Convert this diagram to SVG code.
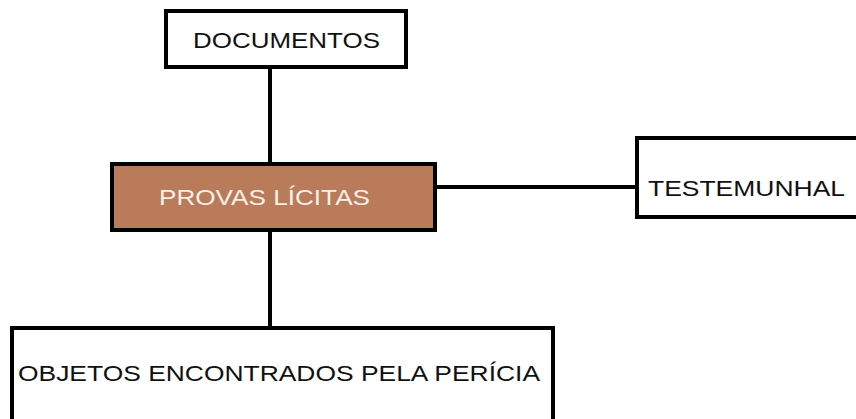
<svg xmlns="http://www.w3.org/2000/svg" width="856" height="419" viewBox="0 0 856 419">
<style>
.box{fill:#fff;stroke:#000;stroke-width:4}
.main{fill:#b97b5a;stroke:#000;stroke-width:4}
.t{font-family:"Liberation Sans",Arial,sans-serif;font-size:22px;fill:#111}
.tl{font-family:"Liberation Sans",Arial,sans-serif;font-size:22px;fill:#f6f0e8}
.c{stroke:#000;stroke-width:4;fill:none}
</style>
<rect width="856" height="419" fill="#fff"/>
<g id="connectors">
<line class="c" x1="270" y1="67" x2="270" y2="164"/>
<line class="c" x1="270" y1="230" x2="270" y2="328"/>
<line class="c" x1="435" y1="187" x2="637" y2="187"/>
</g>
<g id="documentos">
<rect class="box" x="166" y="11" width="240" height="56"/>
<text class="t" x="193" y="48" textLength="187" lengthAdjust="spacingAndGlyphs">DOCUMENTOS</text>
</g>
<g id="provas">
<rect class="main" x="112" y="164" width="323" height="66"/>
<text class="tl" x="159" y="205" textLength="211" lengthAdjust="spacingAndGlyphs">PROVAS LÍCITAS</text>
</g>
<g id="testemunhal">
<rect class="box" x="637" y="138" width="300" height="79"/>
<text class="t" x="648" y="196" textLength="197" lengthAdjust="spacingAndGlyphs">TESTEMUNHAL</text>
</g>
<g id="objetos">
<rect class="box" x="12" y="328" width="541" height="120"/>
<text class="t" x="18" y="381" textLength="522" lengthAdjust="spacingAndGlyphs">OBJETOS ENCONTRADOS PELA PERÍCIA</text>
</g>
</svg>
